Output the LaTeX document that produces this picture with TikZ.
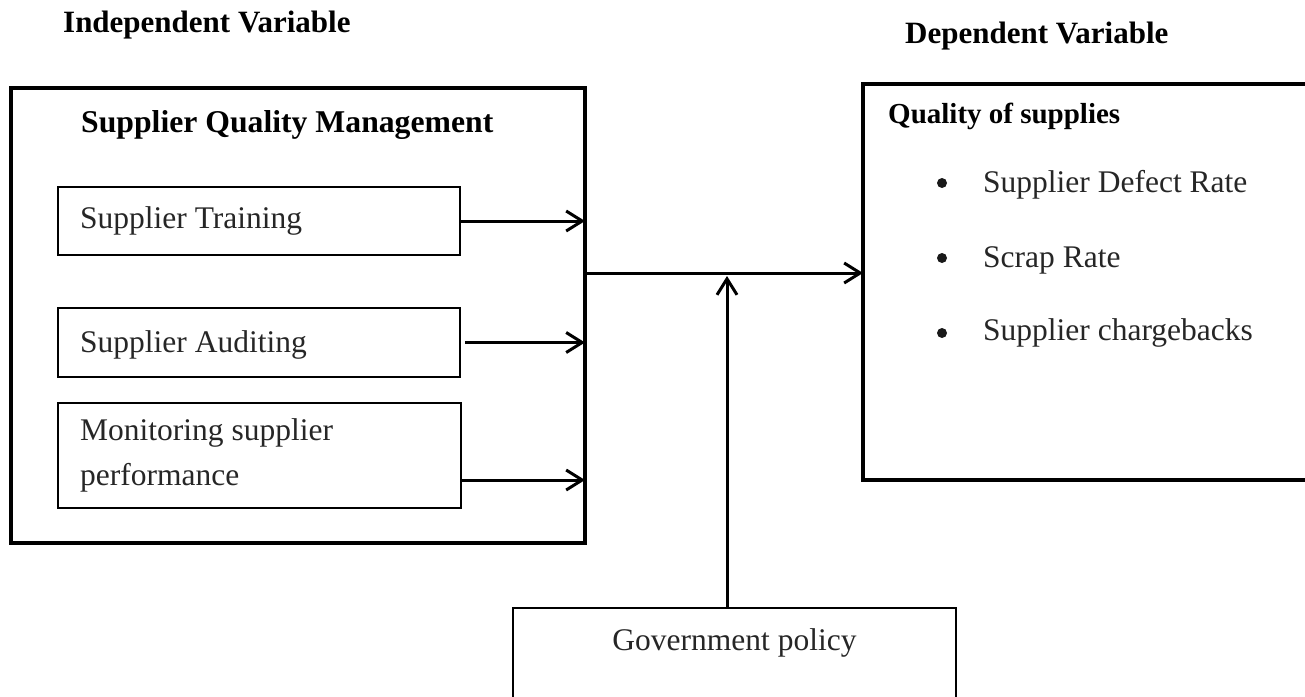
\documentclass[tikz,border=0pt]{standalone}
\usepackage{fontspec}
\setmainfont{Liberation Serif}
\usetikzlibrary{arrows.meta}
\begin{document}
\begin{tikzpicture}[x=1pt,y=-1pt,
  bigbox/.style={draw, line width=4pt, inner sep=0pt, outer sep=0pt},
  itembox/.style={draw, line width=1.6pt, inner sep=0pt, outer sep=0pt},
  reg/.style={font=\fontsize{31.5}{42}\selectfont, text=black!85, inner sep=0pt},
  hdr/.style={font=\fontsize{31}{40}\selectfont\bfseries, inner sep=0pt},
  dot/.style={circle, fill=black!90, inner sep=0pt, minimum size=10pt},
  link/.style={line width=3pt, -{Straight Barb[length=16pt,width=20pt,line width=3pt]}}
]
\clip (0,0) rectangle (1305,696);

% headings
\node[hdr, anchor=base west] (hind) at (63,32) {Independent Variable};
\node[hdr, anchor=base west] (hdep) at (905,43) {Dependent Variable};

% independent variable block
\node[bigbox, minimum width=574pt, minimum height=455pt] (sqm) at (298,315.5) {};
\node[hdr, font=\fontsize{31.7}{40}\selectfont\bfseries, anchor=base west] (sqmtitle) at (81,132) {Supplier Quality Management};

\node[itembox, minimum width=402pt, minimum height=68pt] (b1) at (259,221) {};
\node[reg, anchor=base west] (t1) at (80,228) {Supplier Training};

\node[itembox, minimum width=402pt, minimum height=69pt] (b2) at (259,342.5) {};
\node[reg, anchor=base west] (t2) at (80,352) {Supplier Auditing};

\node[itembox, minimum width=403pt, minimum height=105pt] (b3) at (259.5,455.5) {};
\node[reg, anchor=base west] (t3a) at (80,440) {Monitoring supplier};
\node[reg, anchor=base west] (t3b) at (80,485) {performance};

% dependent variable block
\node[bigbox, minimum width=462pt, minimum height=396pt] (qos) at (1094,282) {};
\node[hdr, font=\fontsize{29}{36}\selectfont\bfseries, anchor=base west] (qostitle) at (888,123) {Quality of supplies};
\node[dot] (d1) at (942,183) {};
\node[reg, anchor=base west] (q1) at (983,192) {Supplier Defect Rate};
\node[dot] (d2) at (942,258) {};
\node[reg, anchor=base west] (q2) at (983,267) {Scrap Rate};
\node[dot] (d3) at (942,333) {};
\node[reg, anchor=base west] (q3) at (983,340) {Supplier chargebacks};

% moderating variable
\node[itembox, line width=2pt, minimum width=443pt, minimum height=112pt] (gov) at (734.5,664) {};
\node[reg, anchor=base] (govt) at (734.5,650) {Government policy};

% connectors
\coordinate (a3) at (462,480);
\coordinate (hub) at (585,273);
\coordinate (mod) at (727,276);
\draw[link] (b1.east) -- (b1.east -| sqm.east);
\draw[link] ([xshift=5pt]b2.east) -- (b2.east -| sqm.east);
\draw[link] (a3) -- (a3 -| sqm.east);
\draw[link] (hub) -- (hub -| qos.west);
\draw[link] (gov.north -| mod) -- (mod);
\end{tikzpicture}
\end{document}
